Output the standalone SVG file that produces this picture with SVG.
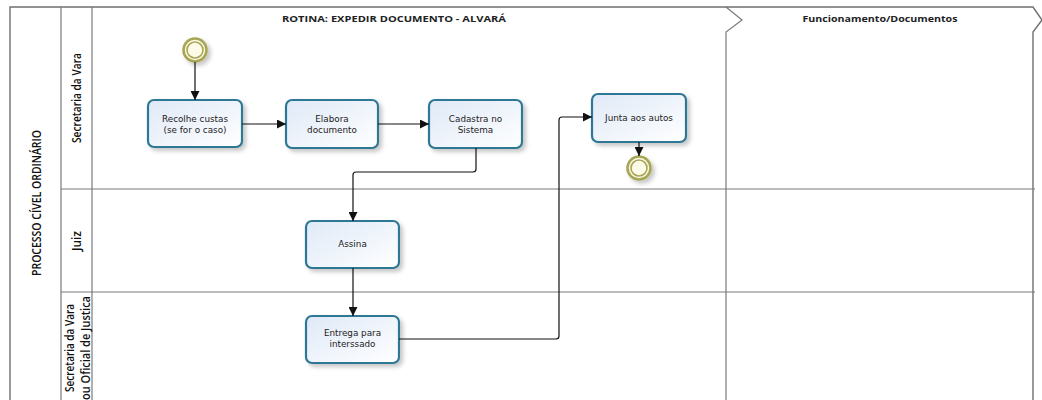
<svg xmlns="http://www.w3.org/2000/svg" width="1042" height="400" viewBox="0 0 1042 400">
<style>
.frame{fill:none;stroke:#6f6f6f;stroke-width:1.4}
.lane{fill:none;stroke:#7a7a7a;stroke-width:1.2}
.task{fill:url(#tg);stroke:#2d7795;stroke-width:2.2;filter:url(#sh)}
.tt{font-family:"DejaVu Sans",Verdana,sans-serif;font-size:8.8px;fill:#222;text-anchor:middle}
.hd{font-family:"Open Sans","Liberation Sans",sans-serif;font-weight:bold;font-size:9.5px;fill:#222;text-anchor:middle}
.ll{font-family:"Open Sans","Liberation Sans",sans-serif;font-size:12px;fill:#111;text-anchor:middle;font-weight:600}
.ev{fill:#fbfbe8;stroke:#a8a655;stroke-width:2.6;filter:url(#sh)}
.evi{fill:none;stroke:#a8a655;stroke-width:1.6}
.cn{fill:none;stroke:#111;stroke-width:1.2;marker-end:url(#ah)}
</style>
<defs>
<linearGradient id="tg" x1="0" y1="0" x2="1" y2="1">
<stop offset="0" stop-color="#dfe9f7"/>
<stop offset="1" stop-color="#ffffff"/>
</linearGradient>
<filter id="sh" x="-20%" y="-20%" width="150%" height="150%">
<feDropShadow dx="3" dy="3" stdDeviation="2" flood-color="#000" flood-opacity="0.22"/>
</filter>
<marker id="ah" viewBox="0 0 10 10" refX="10" refY="5" markerWidth="9" markerHeight="9" markerUnits="userSpaceOnUse" orient="auto">
<path d="M0,0 L10,5 L0,10 z" fill="#111"/>
</marker>
</defs>
<rect width="1042" height="400" fill="#fff"/>
<g id="pool">
<path class="frame" d="M10,400 V7 H1033 L1042,20"/>
<path class="frame" d="M1042,20 L1033,32 V400"/>
<path class="lane" d="M726,7 L742,20 L726,32 V400"/>
<line class="lane" x1="61" y1="7" x2="61" y2="400"/>
<line class="lane" x1="92" y1="7" x2="92" y2="400"/>
<line class="lane" x1="61" y1="189" x2="1035" y2="189"/>
<line class="lane" x1="61" y1="292" x2="1035" y2="292"/>
<text class="hd" x="394" y="22" textLength="224" lengthAdjust="spacingAndGlyphs">ROTINA: EXPEDIR DOCUMENTO - ALVARÁ</text>
<text class="hd" x="880" y="22" textLength="155" lengthAdjust="spacingAndGlyphs">Funcionamento/Documentos</text>
<text class="ll" transform="translate(41,203) rotate(-90)" textLength="146" lengthAdjust="spacingAndGlyphs">PROCESSO CÍVEL ORDINÁRIO</text>
<text class="ll" transform="translate(81,98) rotate(-90)" textLength="90" lengthAdjust="spacingAndGlyphs">Secretaria da Vara</text>
<text class="ll" transform="translate(81,241) rotate(-90)" textLength="20" lengthAdjust="spacingAndGlyphs">Juiz</text>
<text class="ll" transform="translate(74,348) rotate(-90)" textLength="88" lengthAdjust="spacingAndGlyphs">Secretaria da Vara</text>
<text class="ll" transform="translate(90,348) rotate(-90)" textLength="104" lengthAdjust="spacingAndGlyphs">ou Oficial de Justica</text>
</g>
<g id="start">
<circle class="ev" cx="195" cy="50" r="11.5"/>
<circle class="evi" cx="195" cy="50" r="8"/>
</g>
<g id="recolhe">
<rect class="task" x="148" y="100" width="94" height="47" rx="6"/>
<text class="tt" x="195" y="122">Recolhe custas</text>
<text class="tt" x="195" y="133">(se for o caso)</text>
</g>
<g id="elabora">
<rect class="task" x="286" y="100" width="92" height="48" rx="6"/>
<text class="tt" x="332" y="122">Elabora</text>
<text class="tt" x="332" y="133">documento</text>
</g>
<g id="cadastra">
<rect class="task" x="429" y="100" width="93" height="48" rx="6"/>
<text class="tt" x="475.5" y="122">Cadastra no</text>
<text class="tt" x="475.5" y="133">Sistema</text>
</g>
<g id="junta">
<rect class="task" x="592" y="94" width="94" height="48" rx="6"/>
<text class="tt" x="639" y="121">Junta aos autos</text>
</g>
<g id="end">
<circle class="ev" cx="639" cy="168" r="11.5"/>
<circle class="evi" cx="639" cy="168" r="8"/>
</g>
<g id="assina">
<rect class="task" x="306" y="221" width="93" height="47" rx="6"/>
<text class="tt" x="352.5" y="247">Assina</text>
</g>
<g id="entrega">
<rect class="task" x="306" y="316" width="93" height="47" rx="6"/>
<text class="tt" x="352.5" y="336">Entrega para</text>
<text class="tt" x="352.5" y="347">interssado</text>
</g>
<g id="connectors">
<path class="cn" d="M195,62 V100"/>
<path class="cn" d="M242,124 H286"/>
<path class="cn" d="M378,124 H429"/>
<path class="cn" d="M476,148 V169 Q476,172 473,172 H356 Q353,172 353,175 V221"/>
<path class="cn" d="M353,268 V316"/>
<path class="cn" d="M399,339 H556 Q559,339 559,336 V120 Q559,117 562,117 H592"/>
<path class="cn" d="M639,142 V156"/>
</g>
</svg>
